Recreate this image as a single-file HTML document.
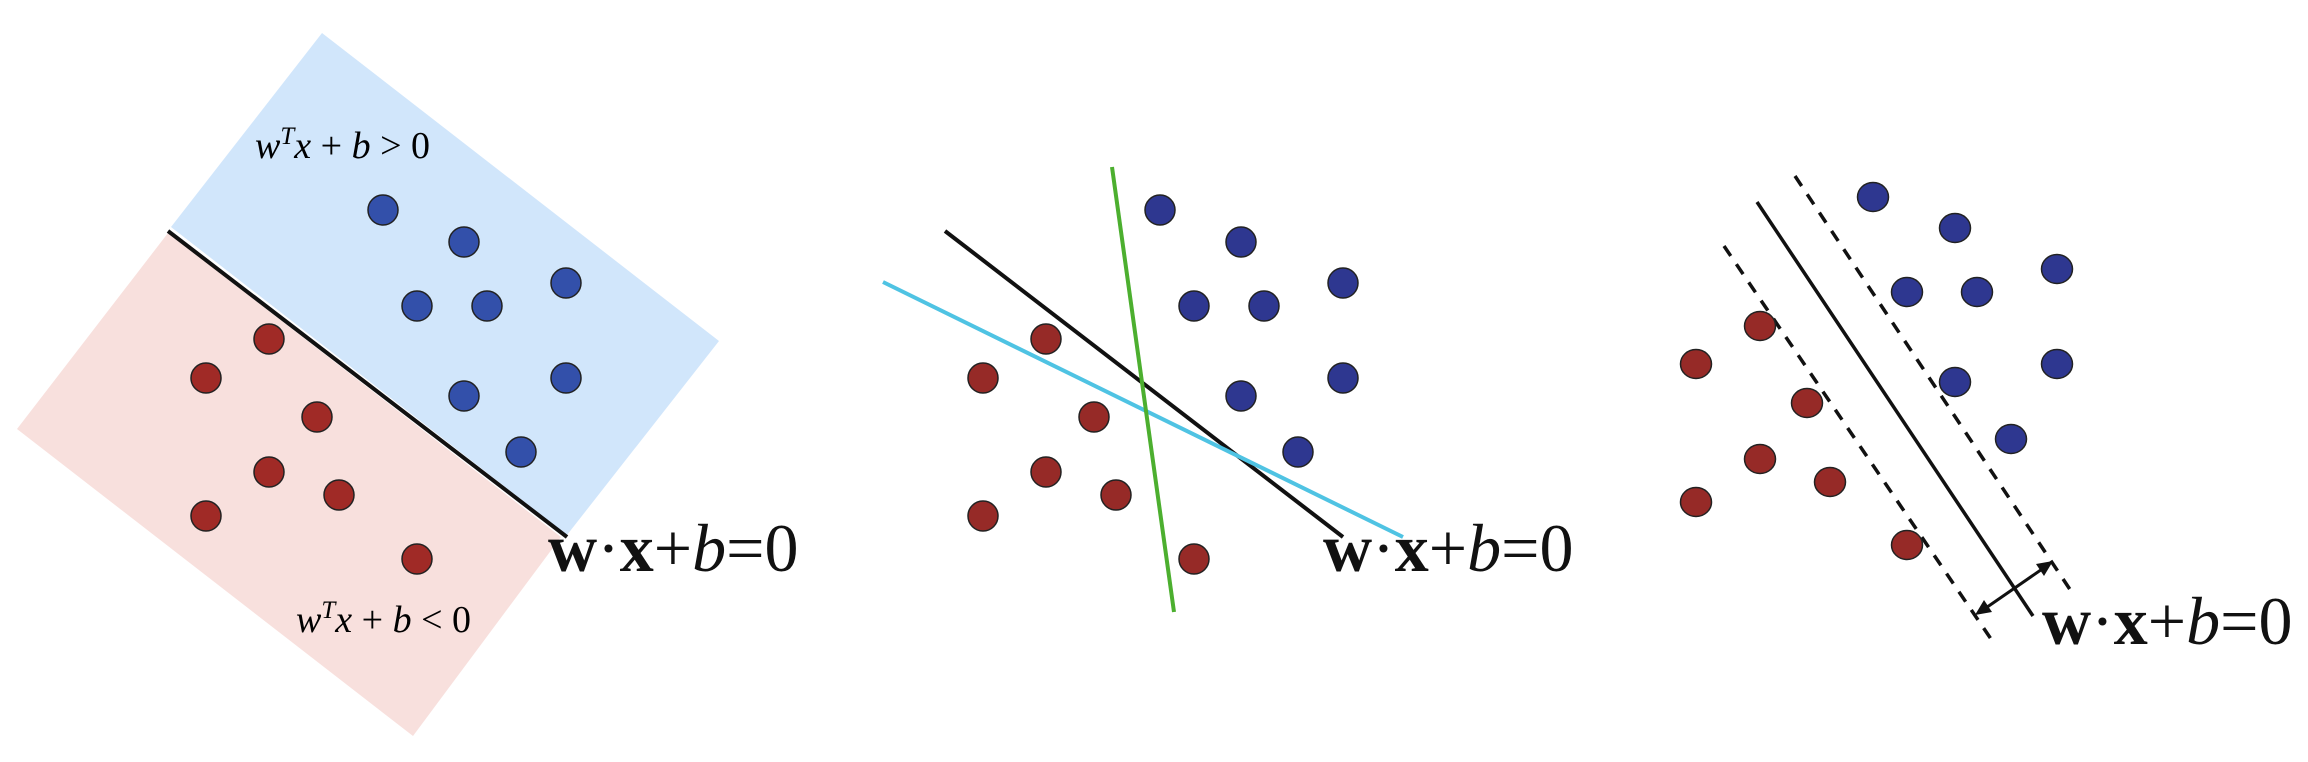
<!DOCTYPE html>
<html><head><meta charset="utf-8">
<style>
html,body{margin:0;padding:0;background:#fff;}
svg{display:block;}
.eq{font-family:"Liberation Serif",serif;font-size:38px;fill:#000;}
.big{font-family:"Liberation Serif",serif;font-size:68px;fill:#111;}
</style></head>
<body>
<svg id="chart" width="2308" height="762" viewBox="0 0 2308 762" xmlns="http://www.w3.org/2000/svg">
<g id="p1">
<polygon points="322,33 719,341 567,535 171,227" fill="#d1e6fb"/>
<polygon points="168,233 561,537 413,736 17,429" fill="#f8e0dd"/>
<line x1="168" y1="231" x2="567" y2="537" stroke="#111" stroke-width="4"/>
<text class="eq" x="255" y="158"><tspan font-style="italic">w</tspan><tspan dy="-14" font-size="25" font-style="italic">T</tspan><tspan dy="14" font-style="italic">x</tspan> + <tspan font-style="italic">b</tspan> &gt; 0</text>
<text class="eq" x="296" y="632"><tspan font-style="italic">w</tspan><tspan dy="-14" font-size="25" font-style="italic">T</tspan><tspan dy="14" font-style="italic">x</tspan> + <tspan font-style="italic">b</tspan> &lt; 0</text>
<text class="big" x="548" y="571"><tspan font-weight="bold">w</tspan>·<tspan font-weight="bold">x</tspan>+<tspan font-style="italic">b</tspan>=0</text>
</g>
<g id="p2">
<line x1="945" y1="231" x2="1343" y2="537" stroke="#111" stroke-width="4"/>
<line x1="883" y1="282" x2="1403" y2="537" stroke="#4fc3e3" stroke-width="4"/>
<line x1="1112" y1="167" x2="1174" y2="612" stroke="#4caf2f" stroke-width="4"/>
<text class="big" x="1323" y="571"><tspan font-weight="bold">w</tspan>·<tspan font-weight="bold">x</tspan>+<tspan font-style="italic">b</tspan>=0</text>
</g>
<g id="p3">
<line x1="1757" y1="202" x2="2033" y2="616" stroke="#111" stroke-width="3.5"/>
<line x1="1724" y1="246" x2="1991" y2="639" stroke="#111" stroke-width="3.5" stroke-dasharray="12,10"/>
<line x1="1795" y1="176" x2="2073" y2="594" stroke="#111" stroke-width="3.5" stroke-dasharray="12,10"/>
<line x1="1980" y1="612" x2="2048" y2="565" stroke="#111" stroke-width="3"/>
<polygon points="1975,615 1992,612 1984,600" fill="#111"/>
<polygon points="2053,561 2044,576 2036,564" fill="#111"/>
<text class="big" x="2042" y="644"><tspan font-weight="bold">w</tspan>·<tspan font-weight="bold">x</tspan>+<tspan font-style="italic">b</tspan>=0</text>
</g>
</svg>
<script>
const blueX1 = [383, 464, 566, 417, 487, 566, 464, 521];
const blueY1 = [210, 242, 283, 306, 306, 378, 396, 452];
const redX1 = [269, 206, 317, 269, 339, 206, 417];
const redY1 = [339, 378, 417, 472, 495, 516, 559];
const blueX3 = [1873, 1955, 2057, 1907, 1977, 2057, 1955, 2011];
const blueY3 = [197, 228, 269, 292, 292, 364, 382, 439];
const redX3 = [1760, 1696, 1807, 1760, 1830, 1696, 1907];
const redY3 = [326, 364, 403, 459, 482, 502, 545];
const panel2Shift = 777;
const NS = 'http://www.w3.org/2000/svg';
function dot(g, x, y, rx, ry, fill, name) {
  const c = document.createElementNS(NS, 'ellipse');
  c.setAttribute('cx', x); c.setAttribute('cy', y);
  c.setAttribute('rx', rx); c.setAttribute('ry', ry);
  c.setAttribute('fill', fill); c.setAttribute('stroke', '#222'); c.setAttribute('stroke-width', '1.5');
  
  
  g.appendChild(c);
}
const g1 = document.getElementById('p1'), g2 = document.getElementById('p2'), g3 = document.getElementById('p3');
blueX1.forEach((x, i) => { dot(g1, x, blueY1[i], 15, 15, '#3350aa', 'blue-point'); dot(g2, x + panel2Shift, blueY1[i], 15, 15, '#2e3790', 'blue-point'); });
redX1.forEach((x, i) => { dot(g1, x, redY1[i], 15, 15, '#a02a26', 'red-point'); dot(g2, x + panel2Shift, redY1[i], 15, 15, '#962a27', 'red-point'); });
blueX3.forEach((x, i) => dot(g3, x, blueY3[i], 15.5, 14.5, '#2e3790', 'blue-point'));
redX3.forEach((x, i) => dot(g3, x, redY3[i], 15.5, 14.5, '#962a27', 'red-point'));
</script>
</body></html>
